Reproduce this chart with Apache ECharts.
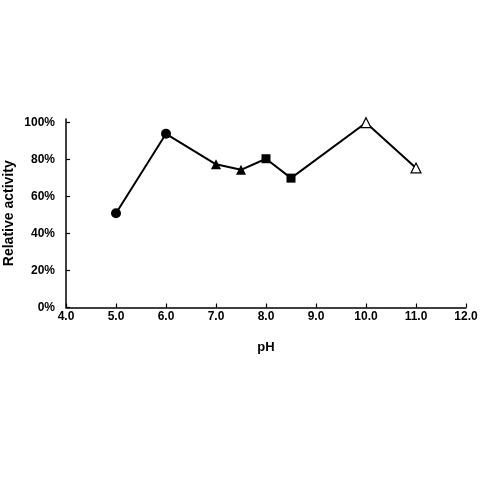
<!DOCTYPE html>
<html>
<head>
<meta charset="utf-8">
<script src="https://cdn.jsdelivr.net/npm/echarts@6/dist/echarts.min.js"></script>
<style>
html,body{margin:0;padding:0;background:#fff;}
#chart{width:480px;height:480px;}
</style>
</head>
<body>
<div id="chart"></div>
<script>
const phValues = [5.0, 6.0, 7.0, 7.5, 8.0, 8.5, 10.0, 11.0];
const activity = [51, 94, 77.5, 74.5, 80.5, 70, 100, 75.5];
const markerShapes = ['circle', 'circle', 'triangle', 'triangle', 'rect', 'rect', 'triangle', 'triangle'];
const markerFilled = [true, true, true, true, true, true, false, false];
const yTicks = [0, 20, 40, 60, 80, 100];

const font = '"Liberation Sans", Arial, sans-serif';
const chart = echarts.init(document.getElementById('chart'), null, {renderer: 'canvas'});

const data = phValues.map((x, i) => ({
  value: [x, activity[i]],
  symbol: markerShapes[i],
  symbolSize: markerShapes[i] === 'rect' ? 9 : 10,
  itemStyle: {
    color: markerFilled[i] ? '#000' : '#fff',
    borderColor: '#000',
    borderWidth: markerFilled[i] ? 0 : 1.2
  }
}));

chart.setOption({
  animation: false,
  backgroundColor: '#fff',
  grid: {left: 66, right: 14, top: 119, bottom: 172.5, containLabel: false, outerBoundsMode: 'none'},
  xAxis: {
    type: 'value', min: 4, max: 12, interval: 1,
    name: 'pH', nameLocation: 'middle', nameGap: 33, nameMoveOverlap: false,
    nameTextStyle: {fontFamily: font, fontWeight: 'bold', fontSize: 13, color: '#000'},
    axisLine: {lineStyle: {color: '#000', width: 1.5}},
    axisTick: {inside: true, length: 4, lineStyle: {color: '#000', width: 1.2}},
    axisLabel: {fontFamily: font, fontWeight: 'bold', fontSize: 12, color: '#000', margin: 3,
      formatter: v => v.toFixed(1)},
    splitLine: {show: false}
  },
  yAxis: {
    type: 'value', min: 0, max: 102,
    name: 'Relative activity', nameLocation: 'middle', nameGap: 50, nameRotate: 90, nameMoveOverlap: false,
    nameTextStyle: {fontFamily: font, fontWeight: 'bold', fontSize: 14, color: '#000'},
    axisLine: {show: true, lineStyle: {color: '#000', width: 1.5}},
    axisTick: {show: true, inside: true, length: 4, customValues: yTicks, lineStyle: {color: '#000', width: 1.2}},
    axisLabel: {fontFamily: font, fontWeight: 'bold', fontSize: 12, color: '#000', margin: 11,
      customValues: yTicks, formatter: v => v + '%'},
    splitLine: {show: false}
  },
  series: [{
    type: 'line',
    data: data,
    lineStyle: {color: '#000', width: 2},
    z: 3
  }]
});
</script>
</body>
</html>
